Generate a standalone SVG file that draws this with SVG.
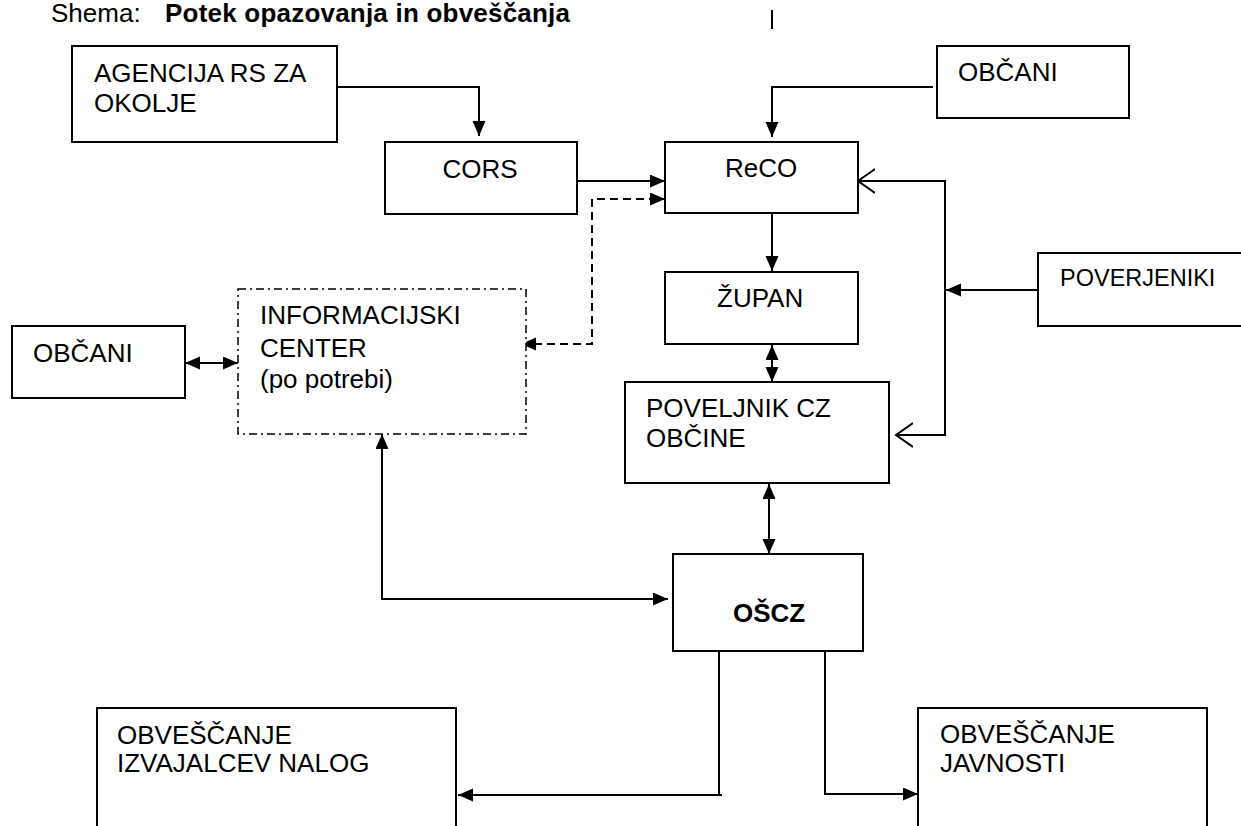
<svg xmlns="http://www.w3.org/2000/svg" width="1241" height="826" viewBox="0 0 1241 826">
<style>
  .box { fill: #fff; stroke: #000; stroke-width: 2; }
  .info { fill: #fff; stroke: #000; stroke-width: 1.5; stroke-dasharray: 8 4 2 4; }
  .t { font-family: "Liberation Sans", Arial, sans-serif; font-size: 26px; fill: #000; }
  .b { font-weight: bold; }
  .c { fill: none; stroke: #000; stroke-width: 2; }
  .d { stroke-dasharray: 8 5; }
</style>
<defs>
  <marker id="fa" markerUnits="userSpaceOnUse" markerWidth="17" markerHeight="15" refX="15" refY="6.5" orient="auto-start-reverse">
    <path d="M0,0 L15,6.5 L0,13 z" fill="#000"/>
  </marker>
  <marker id="oa" markerUnits="userSpaceOnUse" markerWidth="20" markerHeight="28" refX="17" refY="13" orient="auto-start-reverse">
    <path d="M0,1 L17,13 L0,25" fill="none" stroke="#000" stroke-width="2"/>
  </marker>
</defs>
<rect width="1241" height="826" fill="#fff"/>

<g id="title">
  <text class="t" x="51" y="22">Shema:</text>
  <text class="t b" x="165" y="22" textLength="405" lengthAdjust="spacing">Potek opazovanja in obveščanja</text>
  <line x1="772" y1="10" x2="772" y2="29" stroke="#000" stroke-width="2"/>
</g>

<g id="connectors">
  <path class="c" d="M331,87 H479 V136" marker-end="url(#fa)"/>
  <path class="c" d="M933,87 H772 V137" marker-end="url(#fa)"/>
  <path class="c" d="M577,181 H665" marker-end="url(#fa)"/>
  <path class="c d" d="M521,344 H592 V199 H665" marker-start="url(#fa)" marker-end="url(#fa)"/>
  <path class="c" d="M772,213 V271" marker-end="url(#fa)"/>
  <path class="c" d="M772,345 V382" marker-start="url(#fa)" marker-end="url(#fa)"/>
  <path class="c" d="M1038,290 H946" marker-end="url(#fa)"/>
  <path class="c" d="M858,181 H945 V435 H896" marker-start="url(#oa)" marker-end="url(#oa)"/>
  <path class="c" d="M769,484 V554" marker-start="url(#fa)" marker-end="url(#fa)"/>
  <path class="c" d="M382,434 V599 H668" marker-start="url(#fa)" marker-end="url(#fa)"/>
  <path class="c" d="M185,363 H238" marker-start="url(#fa)" marker-end="url(#fa)"/>
  <path class="c" d="M719,651 V795" />
  <path class="c" d="M722,795 H458" marker-end="url(#fa)"/>
  <path class="c" d="M825,651 V794 H918" marker-end="url(#fa)"/>
</g>

<g id="agencija">
  <rect class="box" x="72" y="46" width="265" height="96"/>
  <text class="t" x="94" y="82">AGENCIJA RS ZA</text>
  <text class="t" x="94" y="112">OKOLJE</text>
</g>
<g id="cors">
  <rect class="box" x="385" y="142" width="192" height="72"/>
  <text class="t" x="480" y="178" text-anchor="middle">CORS</text>
</g>
<g id="obcani-top">
  <rect class="box" x="937" y="46" width="192" height="72"/>
  <text class="t" x="958" y="81">OBČANI</text>
</g>
<g id="reco">
  <rect class="box" x="665" y="142" width="193" height="71"/>
  <text class="t" x="725" y="177">ReCO</text>
</g>
<g id="zupan">
  <rect class="box" x="665" y="272" width="193" height="72"/>
  <text class="t" x="717" y="307">ŽUPAN</text>
</g>
<g id="poverjeniki">
  <rect class="box" x="1038" y="253" width="215" height="73"/>
  <text class="t" x="1060" y="286" style="font-size:23.5px">POVERJENIKI</text>
</g>
<g id="informacijski-center">
  <rect class="info" x="238" y="289" width="288" height="145"/>
  <text class="t" x="260" y="324">INFORMACIJSKI</text>
  <text class="t" x="260" y="357">CENTER</text>
  <text class="t" x="260" y="388">(po potrebi)</text>
</g>
<g id="obcani-left">
  <rect class="box" x="12" y="326" width="173" height="72"/>
  <text class="t" x="33" y="362">OBČANI</text>
</g>
<g id="poveljnik">
  <rect class="box" x="625" y="382" width="264" height="101"/>
  <text class="t" x="646" y="417">POVELJNIK CZ</text>
  <text class="t" x="646" y="447">OBČINE</text>
</g>
<g id="osc">
  <rect class="box" x="673" y="554" width="190" height="97"/>
  <text class="t b" x="733" y="622">OŠCZ</text>
</g>
<g id="obvescanje-izvajalcev">
  <rect class="box" x="97" y="708" width="359" height="140"/>
  <text class="t" x="117" y="744">OBVEŠČANJE</text>
  <text class="t" x="117" y="772">IZVAJALCEV NALOG</text>
</g>
<g id="obvescanje-javnosti">
  <rect class="box" x="918" y="708" width="289" height="140"/>
  <text class="t" x="940" y="743">OBVEŠČANJE</text>
  <text class="t" x="940" y="772">JAVNOSTI</text>
</g>
</svg>
